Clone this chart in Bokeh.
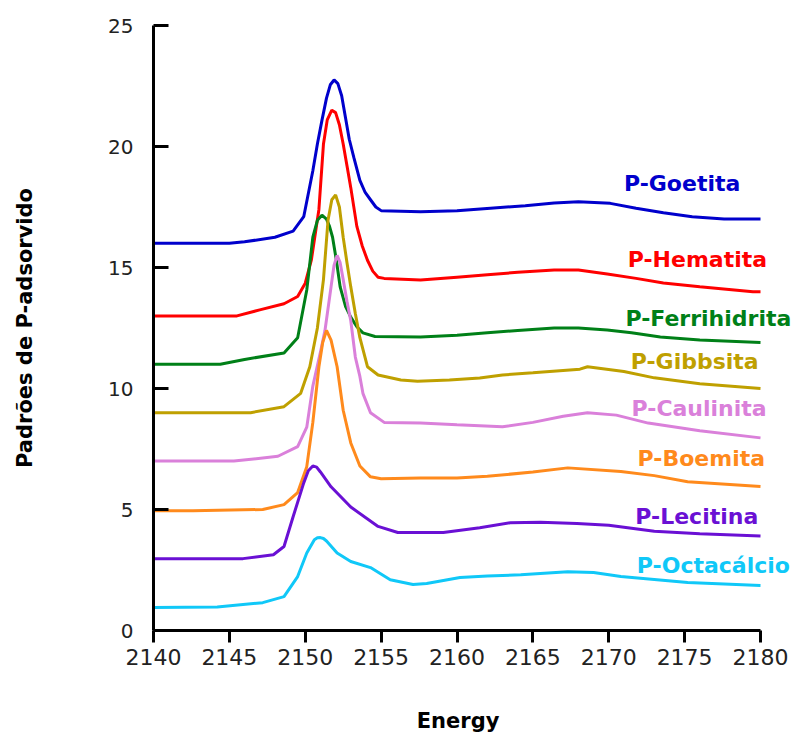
from bokeh.plotting import figure
from bokeh.models import Range1d, SingleIntervalTicker, Label
from bokeh.embed import file_html
from bokeh.resources import INLINE

# ---- data ----
names = ["P-Goetita", "P-Hematita", "P-Ferrihidrita", "P-Gibbsita",
         "P-Caulinita", "P-Boemita", "P-Lecitina", "P-Octacálcio"]
colors = ["#0000CC", "#FF0000", "#008018", "#BFA000",
          "#DA80DA", "#FF8A1C", "#6A10D4", "#10C8F8"]

goetita_x = [2140, 2145, 2146, 2148, 2149.2, 2149.9, 2150.5, 2150.8, 2151.1, 2151.4, 2151.65, 2151.9,
             2152.15, 2152.4, 2152.65, 2152.9, 2153.2, 2153.6, 2153.95, 2154.3, 2154.65, 2155.0,
             2157.6, 2160, 2162.2, 2164.5, 2166.4, 2168, 2170.1, 2171.8, 2173.6, 2175.5, 2177.6, 2180]
goetita_y = [16.0, 16.0, 16.06, 16.25, 16.5, 17.1, 19.0, 20.1, 21.08, 22.0, 22.55, 22.75,
             22.6, 22.1, 21.2, 20.3, 19.55, 18.6, 18.1, 17.8, 17.5, 17.35,
             17.3, 17.35, 17.45, 17.55, 17.67, 17.72, 17.65, 17.45, 17.26, 17.1, 17.0, 17.0]

hematita_x = [2140, 2145.5, 2147, 2148.6, 2149.5, 2150.0, 2150.4, 2150.9, 2151.2, 2151.45, 2151.75,
              2152.0, 2152.25, 2152.5, 2152.75, 2153.0, 2153.4, 2153.75, 2154.1, 2154.45, 2154.8,
              2155.2, 2157.6, 2160, 2162, 2164, 2166.4, 2168, 2169.9, 2171.8, 2173.6, 2176, 2179.5, 2180]
hematita_y = [13.0, 13.0, 13.25, 13.5, 13.8, 14.35, 15.3, 17.4, 20.1, 21.1, 21.5,
              21.4, 20.9, 20.1, 19.2, 18.3, 16.7, 15.9, 15.3, 14.85, 14.6,
              14.55, 14.48, 14.6, 14.7, 14.8, 14.9, 14.9, 14.73, 14.55, 14.36, 14.2, 14.0, 14.0]

ferri_x = [2140, 2144.4, 2146, 2148.6, 2149.5, 2150.1, 2150.5, 2150.8, 2151.1, 2151.4, 2151.6, 2151.8,
           2152.05, 2152.3, 2152.65, 2153.0, 2153.4, 2153.8, 2154.6, 2157.6, 2160, 2162, 2164, 2166.4,
           2168, 2169.9, 2171.5, 2173.4, 2176, 2180]
ferri_y = [11.0, 11.0, 11.2, 11.47, 12.1, 14.07, 16.25, 16.95, 17.16, 17.0, 16.7, 16.25,
           15.3, 14.2, 13.4, 12.95, 12.55, 12.3, 12.15, 12.13, 12.2, 12.3, 12.4, 12.5,
           12.5, 12.42, 12.3, 12.13, 12.0, 11.9]

gibb_x = [2140, 2146.4, 2148.6, 2149.7, 2150.3, 2150.8, 2151.2, 2151.5, 2151.75, 2152.0, 2152.25,
          2152.5, 2152.75, 2153.0, 2153.3, 2153.6, 2154.1, 2154.8, 2156.3, 2157.4, 2159.5, 2161.5,
          2163, 2165, 2168.1, 2168.6, 2171, 2173, 2176, 2180]
gibb_y = [9.0, 9.0, 9.25, 9.8, 10.9, 12.5, 14.5, 16.95, 17.8, 18.0, 17.5,
          16.25, 15.2, 14.2, 13.1, 12.1, 10.9, 10.56, 10.35, 10.3, 10.35, 10.43,
          10.56, 10.65, 10.8, 10.9, 10.7, 10.44, 10.2, 10.0]

caul_x = [2140, 2145.3, 2148.2, 2149.5, 2150.1, 2150.5, 2151.0, 2151.3, 2151.7, 2151.9, 2152.1,
          2152.3, 2152.5, 2152.75, 2153.0, 2153.3, 2153.6, 2153.8, 2154.3, 2155.2, 2157.6, 2160,
          2163, 2165, 2167, 2168.6, 2170.5, 2172.6, 2176, 2180]
caul_y = [7.0, 7.0, 7.2, 7.6, 8.4, 10.1, 11.5, 12.4, 14.2, 15.1, 15.5,
          15.2, 14.5, 13.6, 12.8, 11.3, 10.5, 9.8, 9.0, 8.6, 8.57, 8.5,
          8.42, 8.6, 8.85, 9.0, 8.9, 8.57, 8.25, 7.96]

boem_x = [2140, 2142.6, 2147.2, 2148.6, 2149.5, 2150.1, 2150.5, 2150.9, 2151.15, 2151.4, 2151.7,
          2152.1, 2152.5, 2153.0, 2153.6, 2154.3, 2155, 2157.6, 2160, 2162, 2165, 2167.3,
          2170.8, 2173, 2175.2, 2180]
boem_y = [4.95, 4.95, 5.0, 5.2, 5.7, 6.77, 8.6, 10.9, 11.9, 12.4, 12.0,
          10.9, 9.1, 7.75, 6.8, 6.35, 6.27, 6.3, 6.3, 6.37, 6.55, 6.72,
          6.57, 6.4, 6.15, 5.95]

leci_x = [2140, 2145.9, 2147.9, 2148.6, 2149.2, 2149.9, 2150.2, 2150.5, 2150.75, 2151.0, 2151.7,
          2153.0, 2154.8, 2156.1, 2159.1, 2161.5, 2163.5, 2165.5, 2167.9, 2170, 2173, 2176, 2180]
leci_y = [2.97, 2.97, 3.13, 3.47, 4.7, 6.1, 6.6, 6.8, 6.75, 6.55, 5.94,
          5.1, 4.3, 4.05, 4.05, 4.25, 4.45, 4.47, 4.42, 4.35, 4.1, 4.0, 3.9]

octa_x = [2140, 2144.2, 2147.2, 2148.6, 2149.5, 2150.1, 2150.6, 2150.8, 2151.0, 2151.2, 2151.4,
          2152.1, 2153.0, 2154.3, 2155.6, 2157.1, 2158.0, 2160.2, 2162, 2164.2, 2167.3, 2169,
          2170.8, 2175.2, 2180]
octa_y = [0.95, 0.97, 1.15, 1.4, 2.23, 3.2, 3.75, 3.83, 3.84, 3.8, 3.7,
          3.2, 2.85, 2.6, 2.1, 1.9, 1.94, 2.19, 2.25, 2.3, 2.43, 2.4,
          2.23, 1.98, 1.86]

series_x = [goetita_x, hematita_x, ferri_x, gibb_x, caul_x, boem_x, leci_x, octa_x]
series_y = [goetita_y, hematita_y, ferri_y, gibb_y, caul_y, boem_y, leci_y, octa_y]

label_x = [2171.0, 2171.25, 2171.1, 2171.45, 2171.5, 2171.9, 2171.75, 2171.85]
label_y = [18.48, 15.35, 12.91, 11.1, 9.16, 7.1, 4.7, 2.68]

x_title = "Energy"
y_title = "Padrões de P-adsorvido"
x_start, x_end = 2140, 2180
y_start, y_end = 0, 25
x_ticks_interval = 5
y_ticks_interval = 5

# ---- figure ----
# the frame reaches the right edge of the page so the series labels are not clipped;
# the x axis itself is bounded to 2140..2180.
frame_left, frame_right_axis, page_w = 153, 760, 806
extra = (x_end - x_start) * (page_w - frame_right_axis) / (frame_right_axis - frame_left)

# trailing no-break spaces keep the x title centred under the 2140..2180 axis
x_title_padded = x_title + "\u00a0" * 6

p = figure(width=page_w, height=735, output_backend="svg", toolbar_location=None,
           x_range=Range1d(x_start, x_end + extra), y_range=Range1d(y_start, y_end),
           min_border_left=frame_left, min_border_right=0, min_border_top=25, min_border_bottom=104,
           x_axis_label=x_title_padded, y_axis_label=y_title)
p.outline_line_color = None
p.xgrid.visible = False
p.ygrid.visible = False
p.background_fill_color = "white"
p.border_fill_color = "white"

for xs, ys, c in zip(series_x, series_y, colors):
    p.line(xs, ys, line_color=c, line_width=3)

for nm, c, lx, ly in zip(names, colors, label_x, label_y):
    p.add_layout(Label(x=lx, y=ly, text=nm, text_color=c, text_font="DejaVu Sans",
                       text_font_style="bold", text_font_size="22px",
                       text_align="left", text_baseline="middle"))

p.xaxis.ticker = SingleIntervalTicker(interval=x_ticks_interval)
p.yaxis.ticker = SingleIntervalTicker(interval=y_ticks_interval)
p.xaxis.bounds = (x_start, x_end)
p.yaxis.bounds = (y_start, y_end)
for ax in (p.xaxis[0], p.yaxis[0]):
    ax.axis_line_width = 3
    ax.axis_line_color = "black"
    ax.major_tick_line_width = 3
    ax.major_tick_line_color = "black"
    ax.minor_tick_line_color = None
    ax.major_label_text_font = "DejaVu Sans"
    ax.major_label_text_color = "#222222"
    ax.axis_label_text_font = "DejaVu Sans"
    ax.axis_label_text_font_style = "bold"
    ax.axis_label_text_font_size = "21px"
    ax.axis_label_text_color = "black"

p.xaxis.major_tick_out = 12
p.xaxis.major_tick_in = 0
p.xaxis.major_label_standoff = 6
p.xaxis.major_label_text_font_size = "22px"
p.xaxis.axis_label_standoff = 41

p.yaxis.major_tick_in = 15
p.yaxis.major_tick_out = 0
p.yaxis.major_label_standoff = 16
p.yaxis.major_label_text_font_size = "20px"
p.yaxis.axis_label_standoff = 68

open("out.html", "w").write(file_html(p, INLINE))
